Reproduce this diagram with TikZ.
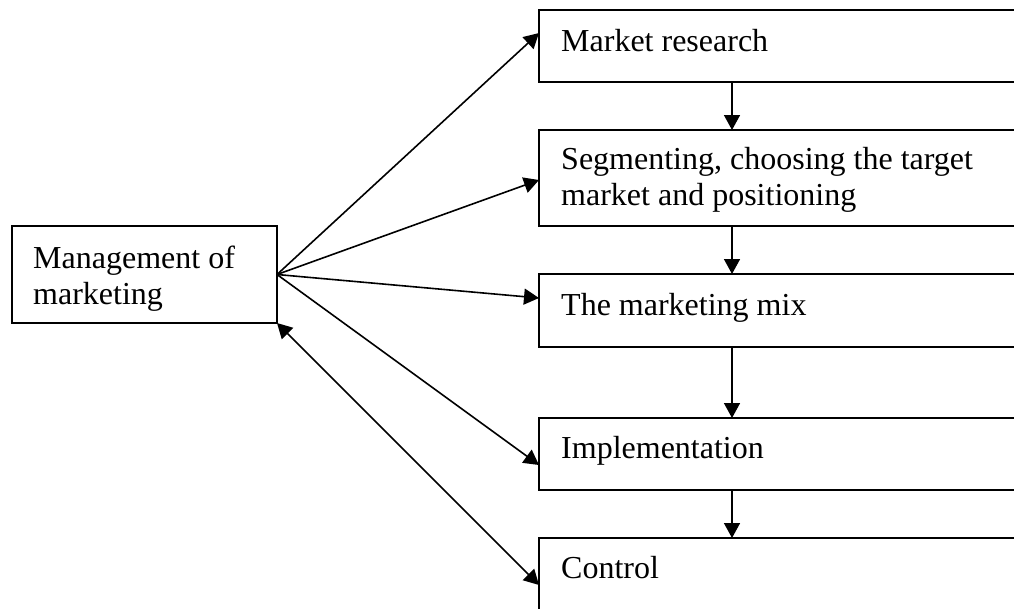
\documentclass[tikz,border=0pt]{standalone}
\usepackage{fontspec}
\setmainfont{Liberation Serif}
\usetikzlibrary{arrows.meta}

\tikzset{
  box/.style={draw=black, line width=2.3pt, rectangle, anchor=north west,
              inner sep=0pt, outer sep=0pt},
  boxtext/.style={anchor=base west, inner sep=0pt, align=left,
                  font=\fontsize{32}{36}\selectfont},
  link/.style={line width=1.6pt, -{Triangle[length=15pt,width=16pt]}},
  twoway/.style={line width=1.6pt,
                 {Triangle[length=15pt,width=16pt]}-{Triangle[length=15pt,width=16pt]}}
}

\begin{document}
\begin{tikzpicture}[x=1pt, y=-1pt]
  \useasboundingbox (0,0) rectangle (1014,608);
  \clip (0,0) rectangle (1014,608);

  % left box (two-line labels sit on their last baseline)
  \node[box, minimum width=265pt, minimum height=97pt] (mgmt) at (12,226) {};
  \node[boxtext] (mgmtT) at ([xshift=21pt,yshift=-78pt]mgmt.north west)
    {Management of\\marketing};

  % column of steps (running past the right and bottom edges)
  \node[box, minimum width=500pt, minimum height=72pt] (mr)  at (539,10)  {};
  \node[box, minimum width=500pt, minimum height=96pt] (seg) at (539,130) {};
  \node[box, minimum width=500pt, minimum height=73pt] (mix) at (539,274) {};
  \node[box, minimum width=500pt, minimum height=72pt] (imp) at (539,418) {};
  \node[box, minimum width=500pt, minimum height=90pt] (ctl) at (539,538) {};

  \node[boxtext] (mrT)  at ([xshift=22pt,yshift=-41pt]mr.north west)  {Market research};
  \node[boxtext] (segT) at ([xshift=22pt,yshift=-75pt]seg.north west)
    {Segmenting, choosing the target\\market and positioning};
  \node[boxtext] (mixT) at ([xshift=22pt,yshift=-41pt]mix.north west) {The marketing mix};
  \node[boxtext] (impT) at ([xshift=22pt,yshift=-40pt]imp.north west) {Implementation};
  \node[boxtext] (ctlT) at ([xshift=22pt,yshift=-40pt]ctl.north west) {Control};

  % flow down the column
  \draw[link] ([xshift=193pt]mr.south west)  -- ([xshift=193pt]seg.north west);
  \draw[link] ([xshift=193pt]seg.south west) -- ([xshift=193pt]mix.north west);
  \draw[link] ([xshift=193pt]mix.south west) -- ([xshift=193pt]imp.north west);
  \draw[link] ([xshift=193pt]imp.south west) -- ([xshift=193pt]ctl.north west);

  % fan out from management
  \draw[link] (mgmt.east) -- ([yshift=13pt]mr.west);
  \draw[link] (mgmt.east) -- ([yshift=-2pt]seg.west);
  \draw[link] (mgmt.east) -- ([yshift=12.5pt]mix.west);
  \draw[link] (mgmt.east) -- ([yshift=-11pt]imp.west);
  \draw[twoway] (mgmt.south east) -- ([yshift=-47pt]ctl.north west);
\end{tikzpicture}
\end{document}
